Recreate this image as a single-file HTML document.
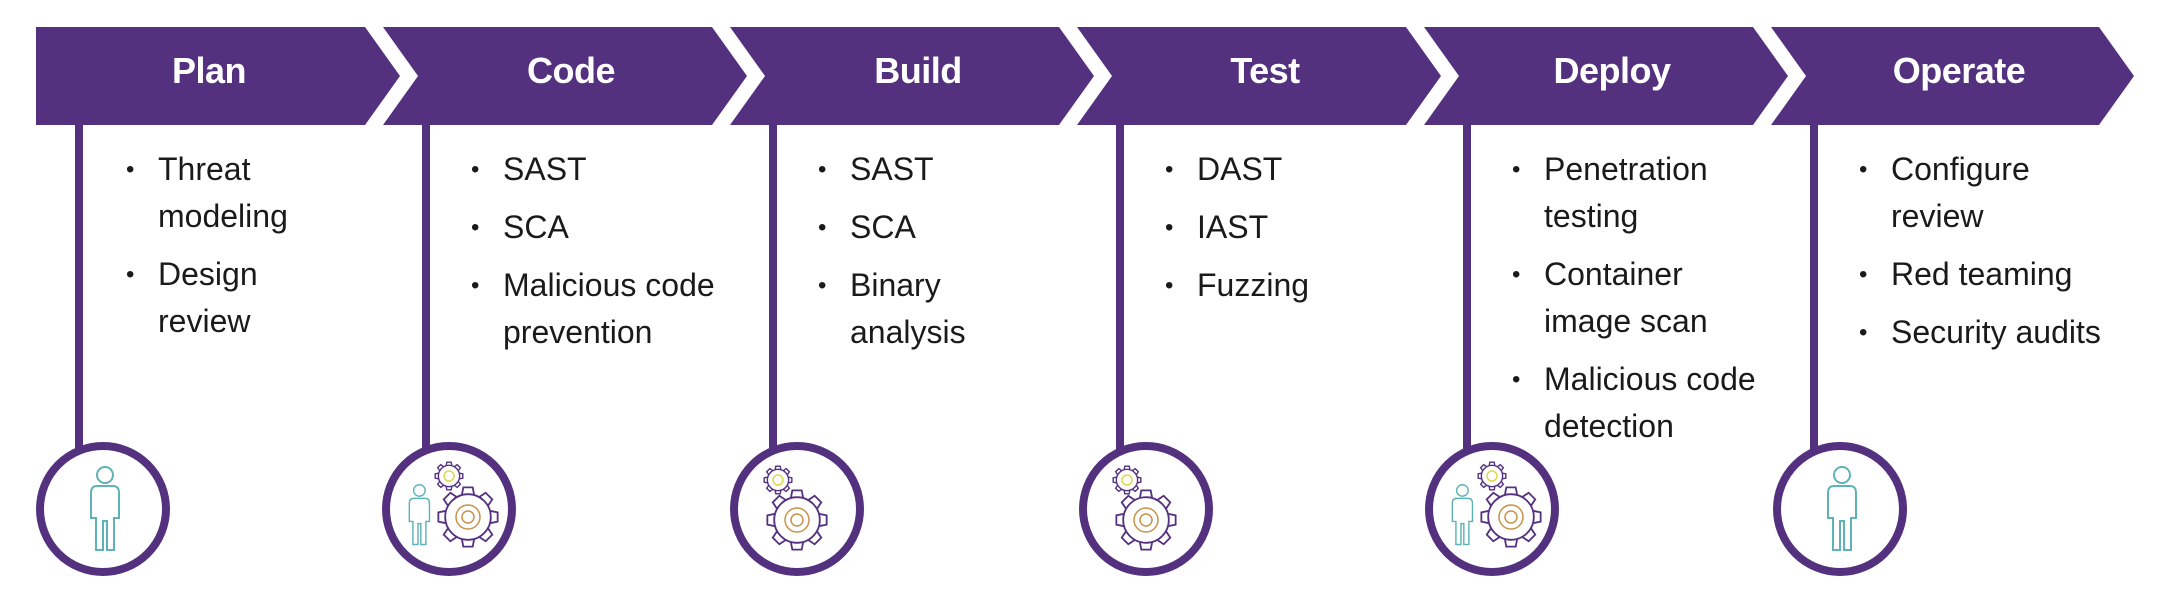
<!DOCTYPE html>
<html><head><meta charset="utf-8"><style>
body{margin:0;width:2160px;height:614px;background:#fff;position:relative;overflow:hidden;font-family:"Liberation Sans",sans-serif}
.t{position:absolute;top:50px;color:#fff;font-weight:bold;font-size:36px;width:240px;text-align:center;letter-spacing:-0.5px}
.l{position:absolute;top:146px;font-size:32px;line-height:47px;color:#1a1a1a}
.l div{position:relative;margin-bottom:11px}
.l div:before{content:"•";position:absolute;left:-32px;font-size:24px}
</style></head><body>
<svg width="2160" height="614" style="position:absolute;left:0;top:0">
<defs>
<g id="person" fill="none" stroke="#5fb3b7" stroke-width="2">
<circle cx="20" cy="9" r="8"/>
<path d="M12 20 H28 Q34 20 34 27 V52 H29 V84 H22 V55 H18 V84 H11 V52 H6 V27 Q6 20 12 20 Z"/>
</g>
<g id="tooth"><polyline points="0.753,-0.202 0.988,-0.156 0.988,0.156 0.753,0.202" fill="none"/></g>
<g id="gear" fill="none">
<circle r="0.76"/>
<use href="#tooth"/><use href="#tooth" transform="rotate(45)"/><use href="#tooth" transform="rotate(90)"/><use href="#tooth" transform="rotate(135)"/><use href="#tooth" transform="rotate(180)"/><use href="#tooth" transform="rotate(225)"/><use href="#tooth" transform="rotate(270)"/><use href="#tooth" transform="rotate(315)"/>
</g>
</defs>
<g fill="#53317f">
<polygon points="36,27 365,27 400,76 365,125 36,125"/>
<polygon points="383,27 712,27 747,76 712,125 383,125 418,76"/>
<polygon points="730,27 1059,27 1094,76 1059,125 730,125 765,76"/>
<polygon points="1077,27 1406,27 1441,76 1406,125 1077,125 1112,76"/>
<polygon points="1424,27 1753,27 1788,76 1753,125 1424,125 1459,76"/>
<polygon points="1771,27 2099,27 2134,76 2099,125 1771,125 1806,76"/>
</g>
<g stroke="#53317f" stroke-width="8" fill="#fff">
<line x1="79" y1="125" x2="79" y2="450"/><line x1="426" y1="125" x2="426" y2="450"/><line x1="773" y1="125" x2="773" y2="450"/><line x1="1120" y1="125" x2="1120" y2="450"/><line x1="1467" y1="125" x2="1467" y2="450"/><line x1="1814" y1="125" x2="1814" y2="450"/>
<circle cx="103" cy="509" r="63"/><circle cx="449" cy="509" r="63"/><circle cx="797" cy="509" r="63"/><circle cx="1146" cy="509" r="63"/><circle cx="1492" cy="509" r="63"/><circle cx="1840" cy="509" r="63"/>
</g>
<!-- Plan -->
<use href="#person" transform="translate(85,466)"/>
<use href="#person" transform="translate(1822,466)"/>
<!-- Code -->
<g transform="translate(449,509)">
<use href="#person" transform="translate(-44,-25) scale(0.72)"/>
<g stroke="#e0d84a" stroke-width="0.12"><use href="#gear" transform="translate(0,-33) scale(14)" stroke="#53317f" stroke-width="0.1"/><circle cx="0" cy="-33" r="5" fill="none" stroke="#e0d84a" stroke-width="1.5"/></g>
<use href="#gear" transform="translate(19,8) scale(30)" stroke="#53317f" stroke-width="0.06"/>
<circle cx="19" cy="8" r="12" fill="none" stroke="#c8924a" stroke-width="1.5"/><circle cx="19" cy="8" r="6" fill="none" stroke="#c8924a" stroke-width="1.5"/>
</g>
<!-- Deploy -->
<g transform="translate(1492,509)">
<use href="#person" transform="translate(-44,-25) scale(0.72)"/>
<use href="#gear" transform="translate(0,-33) scale(14)" stroke="#53317f" stroke-width="0.1"/><circle cx="0" cy="-33" r="5" fill="none" stroke="#e0d84a" stroke-width="1.5"/>
<use href="#gear" transform="translate(19,8) scale(30)" stroke="#53317f" stroke-width="0.06"/>
<circle cx="19" cy="8" r="12" fill="none" stroke="#c8924a" stroke-width="1.5"/><circle cx="19" cy="8" r="6" fill="none" stroke="#c8924a" stroke-width="1.5"/>
</g>
<!-- Build, Test -->
<g transform="translate(797,509)">
<use href="#gear" transform="translate(-19,-29) scale(14)" stroke="#53317f" stroke-width="0.1"/><circle cx="-19" cy="-29" r="5" fill="none" stroke="#e0d84a" stroke-width="1.5"/>
<use href="#gear" transform="translate(0,11) scale(30)" stroke="#53317f" stroke-width="0.06"/>
<circle cx="0" cy="11" r="12" fill="none" stroke="#c8924a" stroke-width="1.5"/><circle cx="0" cy="11" r="6" fill="none" stroke="#c8924a" stroke-width="1.5"/>
</g>
<g transform="translate(1146,509)">
<use href="#gear" transform="translate(-19,-29) scale(14)" stroke="#53317f" stroke-width="0.1"/><circle cx="-19" cy="-29" r="5" fill="none" stroke="#e0d84a" stroke-width="1.5"/>
<use href="#gear" transform="translate(0,11) scale(30)" stroke="#53317f" stroke-width="0.06"/>
<circle cx="0" cy="11" r="12" fill="none" stroke="#c8924a" stroke-width="1.5"/><circle cx="0" cy="11" r="6" fill="none" stroke="#c8924a" stroke-width="1.5"/>
</g>
</svg>
<div class="t" style="left:89px">Plan</div>
<div class="t" style="left:451px">Code</div>
<div class="t" style="left:798px">Build</div>
<div class="t" style="left:1145px">Test</div>
<div class="t" style="left:1492px">Deploy</div>
<div class="t" style="left:1839px">Operate</div>
<div class="l" style="left:158px"><div>Threat<br>modeling</div><div>Design<br>review</div></div>
<div class="l" style="left:503px"><div>SAST</div><div>SCA</div><div>Malicious code<br>prevention</div></div>
<div class="l" style="left:850px"><div>SAST</div><div>SCA</div><div>Binary<br>analysis</div></div>
<div class="l" style="left:1197px"><div>DAST</div><div>IAST</div><div>Fuzzing</div></div>
<div class="l" style="left:1544px"><div>Penetration<br>testing</div><div>Container<br>image scan</div><div>Malicious code<br>detection</div></div>
<div class="l" style="left:1891px"><div>Configure<br>review</div><div>Red teaming</div><div>Security audits</div></div>
</body></html>
